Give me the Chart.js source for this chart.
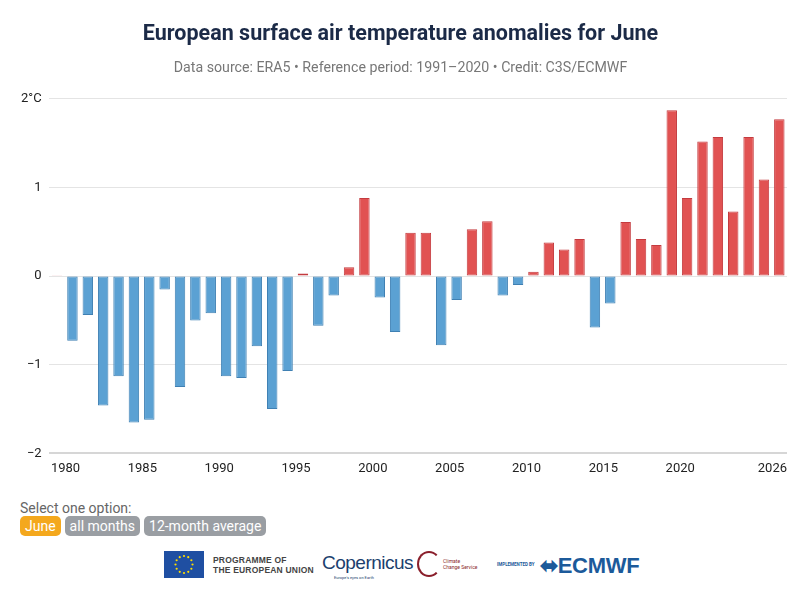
<!DOCTYPE html>
<html>
<head>
<meta charset="utf-8">
<script src="https://cdn.jsdelivr.net/npm/chart.js@4"></script>
<style>
  html, body { margin:0; padding:0; background:#fff; width:808px; height:603px; overflow:hidden; font-family: Roboto, "Noto Sans", sans-serif; }
  #wrap { position:absolute; left:0; top:0; width:808px; height:490px; }
  #opts { position:absolute; left:20px; top:500px; font-size:14px; color:#666; }
  #opts .lbl { line-height:16px; }
  .btn { display:inline-block; padding:1px 5px; border-radius:5px; color:#fff; font-size:14px; line-height:18px; margin-right:4px; }
  .june { background:#f4a81d; }
  .grey { background:#9a9ea3; }
  #logos { position:absolute; left:0; top:548px; width:808px; height:34px; }
  .eu { position:absolute; left:164px; top:3px; width:40px; height:27px; background:#1f4fa2; }
  .eutxt { position:absolute; left:213px; top:7px; font-family:"Liberation Sans", Arial, sans-serif; font-weight:bold; font-size:8.5px; line-height:10px; color:#444; letter-spacing:0.2px; }
  .cop { position:absolute; left:322px; top:4px; font-family:"Liberation Sans", Arial, sans-serif; font-size:19px; color:#1c3f6e; letter-spacing:-0.5px; }
  .copsub { position:absolute; left:334px; top:27px; font-size:4px; color:#1c3f6e; }
  .ccs { position:absolute; left:417px; top:3px; width:24px; height:26px; border:2px solid #8a1f2b; border-radius:50%; border-right-color:transparent; box-sizing:border-box; }
  .ccstxt { position:absolute; left:443px; top:10px; font-size:5px; line-height:6px; color:#8a1f2b; }
  .impl { position:absolute; left:497px; top:14px; font-size:4.5px; color:#1c5a9a; font-weight:bold; }
  .ecmwf { position:absolute; left:540px; top:5px; font-family:"Liberation Sans", Arial, sans-serif; font-weight:bold; font-size:22px; color:#1c5a9a; letter-spacing:-0.3px; }
</style>
</head>
<body>
<div id="wrap"><canvas id="c" width="808" height="490"></canvas></div>
<div id="opts">
  <div class="lbl">Select one option:</div>
  <span class="btn june">June</span><span class="btn grey">all months</span><span class="btn grey">12-month average</span>
</div>
<div id="logos">
  <div class="eu"><svg width="40" height="27" viewBox="0 0 40 27" id="stars"></svg></div>
  <div class="eutxt">PROGRAMME OF<br>THE EUROPEAN UNION</div>
  <div class="cop">Copernicus</div>
  <div class="copsub">Europe's eyes on Earth</div>
  <div class="ccs"></div>
  <div class="ccstxt">Climate<br>Change Service</div>
  <div class="impl">IMPLEMENTED BY</div>
  <div class="ecmwf">&#x2B0C;ECMWF</div>
</div>
<script>
// ---- data ----
const years = [1979,1980,1981,1982,1983,1984,1985,1986,1987,1988,1989,1990,1991,1992,1993,1994,1995,1996,1997,1998,1999,2000,2001,2002,2003,2004,2005,2006,2007,2008,2009,2010,2011,2012,2013,2014,2015,2016,2017,2018,2019,2020,2021,2022,2023,2024,2025,2026];
const anomalies = [0.01,-0.73,-0.44,-1.46,-1.13,-1.65,-1.62,-0.15,-1.25,-0.50,-0.42,-1.13,-1.15,-0.79,-1.50,-1.07,0.03,-0.56,-0.22,0.10,0.88,-0.24,-0.63,0.49,0.49,-0.78,-0.27,0.53,0.62,-0.22,-0.10,0.05,0.38,0.30,0.42,-0.58,-0.31,0.61,0.42,0.35,1.87,0.88,1.52,1.57,0.73,1.57,1.09,1.77];
const xTickYears = [1980,1985,1990,1995,2000,2005,2010,2015,2020,2026];
const yTicks = [-2,-1,0,1,2];
const titleText = "European surface air temperature anomalies for June";
const subtitleText = "Data source: ERA5 \u2022 Reference period: 1991\u20132020 \u2022 Credit: C3S/ECMWF";

// EU stars
(function(){
  const svg = document.getElementById('stars');
  let s = '';
  for (let i=0;i<12;i++){
    const a = i*Math.PI/6;
    const x = 20 + 8.5*Math.sin(a), y = 13.5 - 8.5*Math.cos(a);
    s += '<circle cx="'+x.toFixed(2)+'" cy="'+y.toFixed(2)+'" r="1.1" fill="#ffdd00"/>';
  }
  svg.innerHTML = s;
})();

const RED = '#e15252', RED_B = '#c43b3f', BLUE = '#5ba1d3', BLUE_B = '#3f80b3';
const points = years.map((y,i)=>({x: y + 0.45, y: anomalies[i]}));

new Chart(document.getElementById('c'), {
  type: 'bar',
  data: {
    datasets: [{
      data: points,
      backgroundColor: ctx => (ctx.raw && ctx.raw.y >= 0) ? RED : BLUE,
      borderColor: ctx => (ctx.raw && ctx.raw.y >= 0) ? RED_B : BLUE_B,
      borderWidth: 1,
      borderSkipped: false,
      barPercentage: 0.85,
      categoryPercentage: 0.8
    }]
  },
  options: {
    responsive: false,
    animation: false,
    devicePixelRatio: 1,
    layout: { padding: { left: 14, right: 21, top: 2, bottom: 5 } },
    plugins: {
      legend: { display: false },
      tooltip: { enabled: false },
      title: {
        display: true, text: titleText, color: '#1b2a47',
        font: { family: 'Roboto', size: 21.5, weight: 'bold' },
        padding: { top: 20, bottom: 8 }
      },
      subtitle: {
        display: true, text: subtitleText, color: '#777',
        font: { family: 'Roboto', size: 14.2 },
        padding: { top: 4, bottom: 22 }
      }
    },
    scales: {
      x: {
        type: 'linear',
        offset: false,
        min: 1978.9, max: 2026.95,
        afterBuildTicks: axis => { axis.ticks = xTickYears.map(v => ({value: v})); },
        grid: { display: false, drawTicks: false, offset: false },
        border: { display: false },
        ticks: {
          autoSkip: false, maxRotation: 0,
          color: '#222', font: { family: 'Roboto', size: 13 }, padding: 8,
          callback: v => String(v)
        }
      },
      y: {
        min: -2, max: 2,
        afterBuildTicks: axis => { axis.ticks = yTicks.map(v => ({value: v})); },
        grid: { color: ctx => ctx.tick && ctx.tick.value === -2 ? '#d6d6d6' : '#e4e4e4', lineWidth: ctx => ctx.tick && ctx.tick.value === -2 ? 2 : 1, drawTicks: false },
        border: { display: false },
        ticks: {
          color: '#222', font: { family: 'Roboto', size: 13 }, padding: 7,
          callback: v => v === 2 ? '2\u00B0C' : (v < 0 ? '\u2212' + Math.abs(v) : String(v))
        }
      }
    }
  }
});
</script>
</body>
</html>
